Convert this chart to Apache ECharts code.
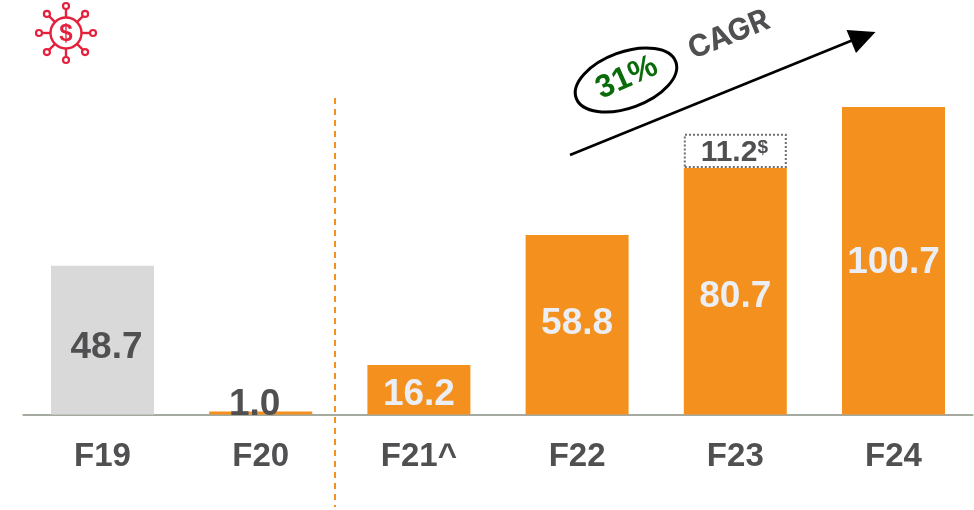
<!DOCTYPE html>
<html>
<head>
<meta charset="utf-8">
<title>Chart</title>
<style>
  html, body { margin: 0; padding: 0; background: #fff; }
  #main { width: 974px; height: 510px; }
</style>
<script src="https://cdn.jsdelivr.net/npm/echarts@6/dist/echarts.min.js"></script>
</head>
<body>
<div id="main"></div>
<script>
const categories = ['F19', 'F20', 'F21^', 'F22', 'F23', 'F24']
const barValues = [48.7, 1.0, 16.2, 58.8, 80.7, 100.7]
const extraValues = [null, null, null, null, 11.2, null]
const axisTicks = [0, 120]
const cagrText = 'CAGR'
const cagrValue = '31%'

const ORANGE = '#f4911e'
const GREY_BAR = '#d9d9d9'
const TEXT = '#505052'
const ICON = '#e5203c'
const FONT = '"Liberation Sans", Arial, sans-serif'

// label tweaks per bar, the reference doesn't centre them exactly
const labelNudge = [[4, 8], [-6, -8], [0, 5], [0, -1], [0, 6], [0, 2]]
const labelColors = [TEXT, TEXT, '#eceef6', '#eceef6', '#eceef6', '#eceef6']

function iconElements () {
  const cx = 66
  const cy = 33
  const stroke = { stroke: ICON, lineWidth: 2.4, fill: 'none' }
  const els = [
    { type: 'circle', shape: { cx, cy, r: 15.5 }, style: stroke },
    {
      type: 'text',
      x: cx,
      y: cy + 1,
      style: { text: '$', font: 'bold 24px ' + FONT, fill: ICON, align: 'center', verticalAlign: 'middle' }
    }
  ]
  for (let i = 0; i < 8; i++) {
    const a = i * Math.PI / 4
    const dx = Math.cos(a)
    const dy = Math.sin(a)
    els.push({
      type: 'line',
      shape: { x1: cx + dx * 15.5, y1: cy + dy * 15.5, x2: cx + dx * 24, y2: cy + dy * 24 },
      style: stroke
    })
    els.push({
      type: 'circle',
      shape: { cx: cx + dx * 27, cy: cy + dy * 27, r: 3 },
      style: { stroke: ICON, lineWidth: 2.2, fill: '#fff' }
    })
  }
  return els
}

const tilt = 22 * Math.PI / 180

const chart = echarts.init(document.getElementById('main'), null, { renderer: 'canvas' })
chart.setOption({
  animation: false,
  backgroundColor: '#fff',
  textStyle: { fontFamily: FONT },
  grid: { left: 23.4, right: 1.4, top: 48, height: 366.5, containLabel: false },
  xAxis: {
    type: 'category',
    data: categories,
    axisTick: { show: false },
    axisLine: { lineStyle: { color: '#a4aaa0', width: 2 } },
    axisLabel: { color: TEXT, fontSize: 33, fontWeight: 'bold', fontFamily: FONT, margin: 26 }
  },
  yAxis: {
    type: 'value',
    min: axisTicks[0],
    max: axisTicks[1],
    show: false
  },
  series: [
    {
      name: 'base',
      type: 'bar',
      stack: 'total',
      barWidth: 103,
      data: barValues.map((v, i) => ({
        value: v,
        itemStyle: { color: i === 0 ? GREY_BAR : ORANGE },
        label: {
          show: true,
          position: 'inside',
          offset: labelNudge[i],
          color: labelColors[i],
          fontSize: 37,
          fontWeight: 'bold',
          fontFamily: FONT,
          formatter: p => p.value.toFixed(1)
        }
      }))
    },
    {
      name: 'extra',
      type: 'bar',
      stack: 'total',
      barWidth: 103,
      itemStyle: { color: '#fff', borderColor: '#6f6f6f', borderWidth: 2, borderType: [2, 2] },
      label: {
        show: true,
        position: 'inside',
        offset: [-1, 2],
        formatter: p => p.value == null ? '' : '{v|' + p.value.toFixed(1) + '}{s|$}',
        rich: {
          v: { fontSize: 30, fontWeight: 'bold', color: TEXT, fontFamily: FONT },
          s: { fontSize: 19, fontWeight: 'bold', color: TEXT, fontFamily: FONT, verticalAlign: 'top', lineHeight: 30 }
        }
      },
      data: extraValues
    }
  ],
  graphic: [
    ...iconElements(),
    {
      type: 'line',
      shape: { x1: 335, y1: 98, x2: 335, y2: 507 },
      style: { stroke: ORANGE, lineWidth: 2, lineDash: [6, 5] }
    },
    {
      type: 'line',
      shape: { x1: 570, y1: 155, x2: 858, y2: 38 },
      style: { stroke: '#000', lineWidth: 2.5 }
    },
    {
      type: 'polygon',
      shape: { points: [[875.5, 32], [846.5, 30], [856, 53]] },
      style: { fill: '#000' }
    },
    {
      type: 'ellipse',
      x: 626,
      y: 80,
      rotation: 20 * Math.PI / 180,
      shape: { cx: 0, cy: 0, rx: 53, ry: 28 },
      style: { stroke: '#000', lineWidth: 3, fill: '#fff' }
    },
    {
      type: 'text',
      x: 627,
      y: 78,
      rotation: 24 * Math.PI / 180,
      style: {
        text: cagrValue,
        font: 'bold 32px ' + FONT,
        fill: '#0b6b0b',
        align: 'center',
        verticalAlign: 'middle'
      }
    },
    {
      type: 'text',
      x: 729,
      y: 35,
      rotation: tilt,
      style: {
        text: cagrText,
        font: 'bold 30px Inter, ' + FONT,
        fill: TEXT,
        align: 'center',
        verticalAlign: 'middle'
      }
    }
  ]
})
window.addEventListener('resize', () => chart.resize())
</script>
</body>
</html>
